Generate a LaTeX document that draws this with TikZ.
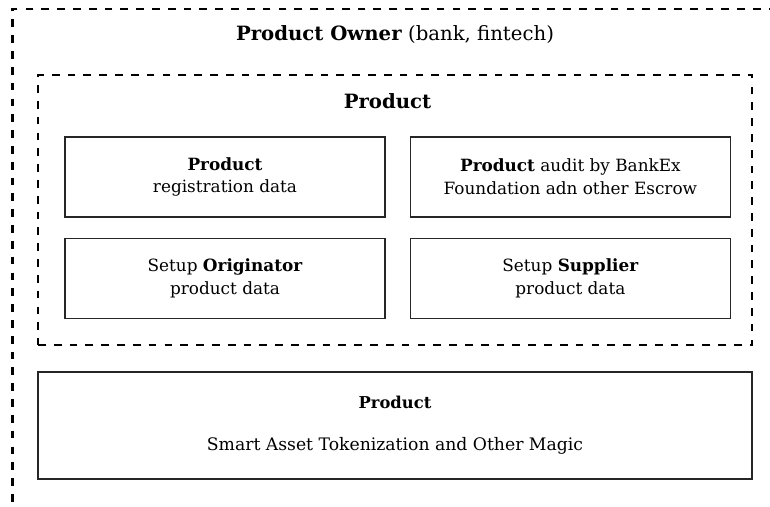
\documentclass[tikz,border=0pt]{standalone}
\usepackage{fontspec}
\setmainfont{DejaVu Serif}
\usetikzlibrary{positioning}
\tikzstyle{pbox}=[draw=black!85, line width=0.8pt, minimum width=6.4cm, minimum height=1.6cm, align=center, inner sep=2pt, font=\fontsize{9.6}{12.9}\selectfont]
\tikzstyle{group}=[draw, line width=1.2pt, dash pattern=on 4.4pt off 4.6pt]
\tikzstyle{caption}=[inner sep=0pt, font=\fontsize{11.2}{13}\selectfont]

\begin{document}
\begin{tikzpicture}[node distance=0.4cm and 0.48cm]
%
  \useasboundingbox (0,0) rectangle (15.4,-10.12);
  \clip (0,0) rectangle (15.4,-10.12);
  % owner frame runs past the page
  \node[group, minimum width=16cm, minimum height=10.8cm, anchor=north west] (owner) at (0.23,-0.15) {};
  \node[caption] (ownerlbl) at (7.9,-0.7) {\textbf{Product Owner} (bank, fintech)};
%
  \node[group, minimum width=14.28cm, minimum height=5.4cm] (prod) at (7.9,-4.2) {};
  \node[caption] (prodlbl) at (7.75,-2.02) {\textbf{Product}};
  \node[pbox] (reg) at (4.5,-3.54) {\textbf{Product}\\registration data};
  \node[pbox] (audit) [right=of reg] {\textbf{Product} audit by BankEx\\Foundation adn other Escrow};
  \node[pbox] (orig) [below=of reg] {Setup \textbf{Originator}\\product data};
  \node[pbox] (supp) [below=of audit] {Setup \textbf{Supplier}\\product data};
%
  \node[pbox, minimum width=14.28cm, minimum height=2.14cm, font=\fontsize{9.3}{24}\selectfont] (magic) at (7.9,-8.51)
    {\textbf{Product}\\{\fontsize{9.8}{24}\selectfont Smart Asset Tokenization and Other Magic}};
%
\end{tikzpicture}
\end{document}
